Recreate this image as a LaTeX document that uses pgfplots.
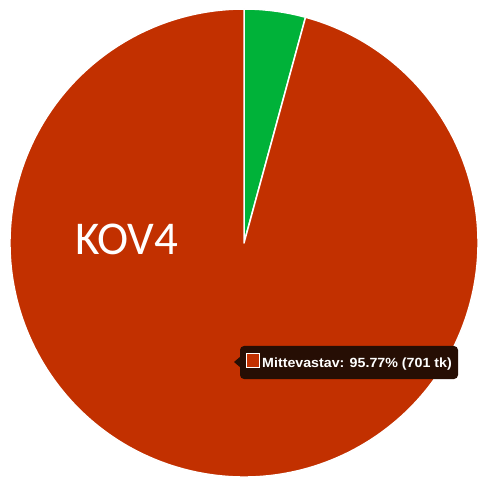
\documentclass[border=0pt]{standalone}
\usepackage{pgfplots}
\pgfplotsset{compat=1.18}
\usepackage{pgfplotstable}
\usepackage{fontspec}
\setmainfont{Liberation Sans}
\newfontfamily\calib{Carlito}
\definecolor{pred}{RGB}{194,48,0}
\definecolor{pgreen}{RGB}{0,178,57}
\definecolor{tipbg}{RGB}{38,14,4}
\pgfplotstableread{
label value
Mittevastav 701
Vastav 31
}\piedata
\begin{document}
\begin{tikzpicture}
\pgfplotstablegetelem{0}{value}\of\piedata \let\vA\pgfplotsretval
\pgfplotstablegetelem{1}{value}\of\piedata \let\vB\pgfplotsretval
\pgfmathsetmacro{\tot}{\vA+\vB}
\pgfmathsetmacro{\angB}{90-360*\vB/\tot}
\begin{axis}[
  x=1pt, y=1pt, xmin=0, xmax=482, ymin=0, ymax=477,
  hide axis, clip=false, scale only axis, axis line style={draw=none},
]
\coordinate (SW) at (axis cs:0,0);
\coordinate (NE) at (axis cs:482,477);
\fill[white] (axis cs:0,0) rectangle (axis cs:482,477);
% green slice
\filldraw[fill=pgreen, draw=white, line width=1.5pt, line join=round]
  (axis cs:244,234) -- ++(90:234pt) arc[start angle=90, end angle=\angB, radius=234pt] -- cycle;
% red slice
\filldraw[fill=pred, draw=white, line width=1.5pt, line join=round]
  (axis cs:244,234) -- ++(\angB:234pt) arc[start angle=\angB, end angle=-270, radius=234pt] -- cycle;
\node[text=white, anchor=base west, font=\calib\fontsize{47}{50}\selectfont, inner sep=0pt] at (axis cs:75,222) {KOV4};
% tooltip
\fill[tipbg, rounded corners=4pt] (axis cs:240,98) rectangle (axis cs:458,131);
\fill[tipbg] (axis cs:241,121) -- (axis cs:234,115) -- (axis cs:241,109) -- cycle;
\filldraw[fill=pred, draw=white, line width=1pt] (axis cs:246.5,109.5) rectangle (axis cs:259.5,123);
\node[text=white, anchor=base west, font=\bfseries\fontsize{13.3}{15}\selectfont, inner sep=0pt, xscale=1.07] at (axis cs:262,110) {Mittevastav: 95.77\% (701 tk)};
\end{axis}
\pgfresetboundingbox
\path[use as bounding box] (SW) rectangle (NE);
\end{tikzpicture}
\end{document}
